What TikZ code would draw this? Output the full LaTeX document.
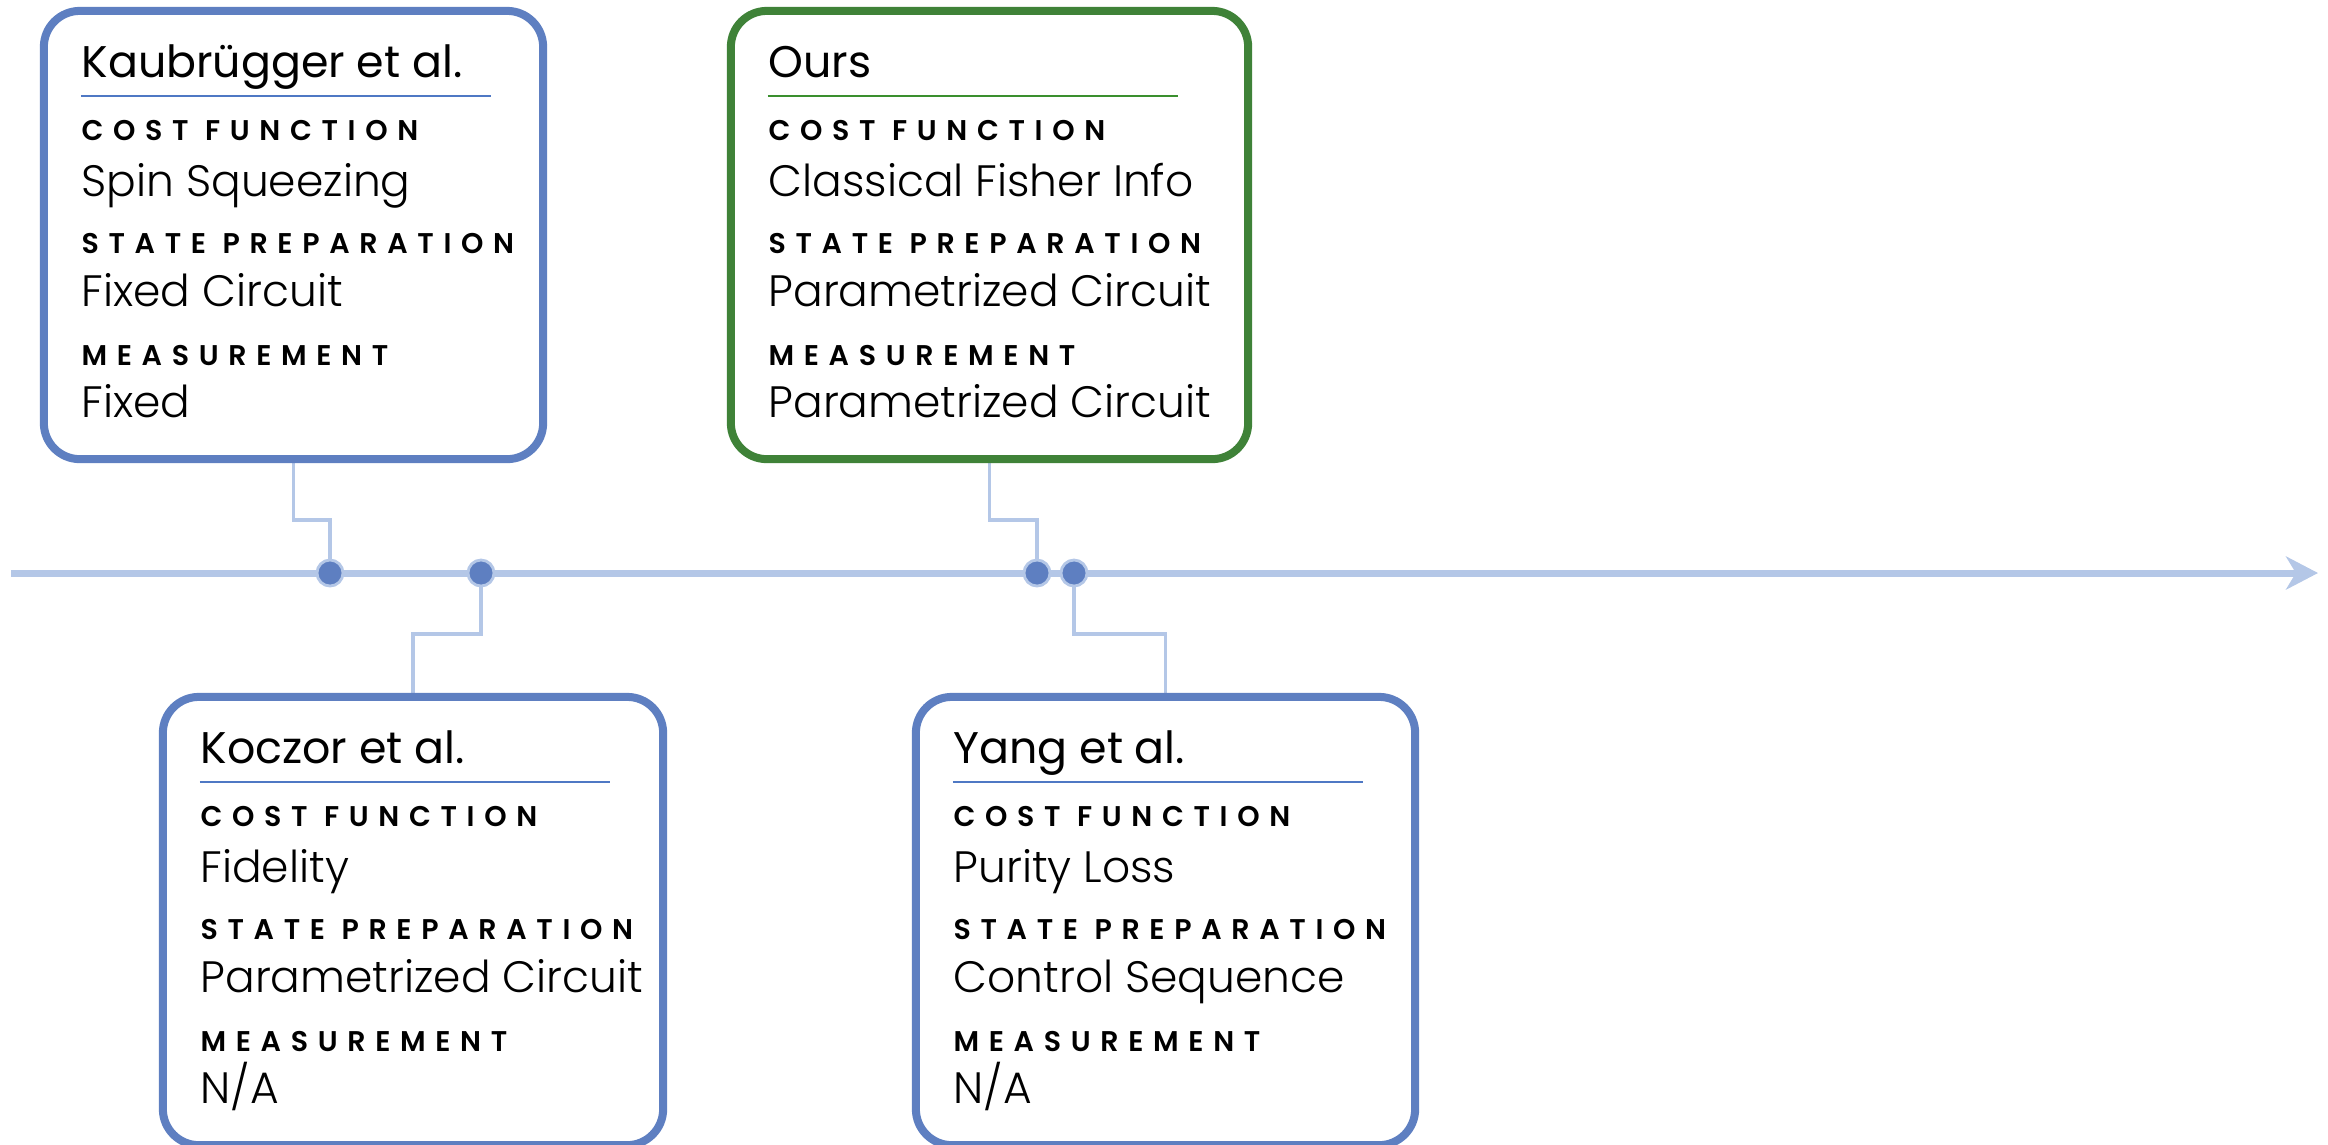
\documentclass[tikz,border=0pt]{standalone}
\usepackage{fontspec}
\setmainfont{Poppins}
\newfontfamily\lightfont{Poppins}[UprightFont=* Light]
\newfontfamily\labelfont{Poppins}[UprightFont=* SemiBold, LetterSpace=34]
\usetikzlibrary{calc,arrows.meta}
\pgfdeclarelayer{bg}
\pgfsetlayers{bg,main}
\definecolor{cardblue}{HTML}{5E7FC1}
\definecolor{cardgreen}{HTML}{3F8238}
\definecolor{lineblue}{HTML}{B4C7E7}
\definecolor{ruleblue}{HTML}{4F78C4}
\definecolor{rulegreen}{HTML}{3A8F2E}
\tikzset{
  card/.style={rectangle, rounded corners=0.36cm, line width=2.28pt, fill=white,
    minimum height=4.48cm, inner sep=0pt},
  cardtitle/.style={anchor=base west, inner sep=0pt, font=\fontsize{12.6}{14}\selectfont},
  cardlabel/.style={anchor=base west, inner sep=0pt, font=\labelfont\fontsize{8.1}{10}\selectfont},
  cardvalue/.style={anchor=base west, inner sep=0pt, font=\lightfont\fontsize{12.5}{14}\selectfont},
  timeline/.style={line width=2pt, draw=lineblue},
  conn/.style={line width=1pt, draw=lineblue},
  tdot/.style={circle, fill=cardblue, draw=lineblue, line width=0.8pt, minimum size=7.4pt, inner sep=0pt}
}
% #1 name, #2 cx, #3 cy, #4 width (cm), #5 border colour, #6 rule colour, #7 title, #8 v1, #9 v2 ; value 3 in \cardthird
\newcommand\cardthird{}
\newcommand\infocard[9]{%
  \node[card, draw=#5, minimum width=#4cm] (#1) at (#2,#3) {};
  \node[cardtitle] (#1-title) at ($(#1.north west)+(41,71)$) {#7};
  \coordinate (#1-rs) at ($(#1.north west)+(41,89)$);
  \coordinate (#1-re) at ($(#1.north west)+(451,89)$);
  \draw[draw=#6, line width=0.45pt] (#1-rs) -- (#1-re);
  \node[cardlabel] (#1-l1) at ($(#1.north west)+(41,134)$) {COST FUNCTION};
  \node[cardvalue] (#1-v1) at ($(#1.north west)+(41,190)$) {#8};
  \node[cardlabel] (#1-l2) at ($(#1.north west)+(41,247)$) {STATE PREPARATION};
  \node[cardvalue] (#1-v2) at ($(#1.north west)+(41,300)$) {#9};
  \node[cardlabel] (#1-l3) at ($(#1.north west)+(41,359)$) {MEASUREMENT};
  \node[cardvalue] (#1-v3) at ($(#1.north west)+(41,411)$) {\cardthird};
}
\begin{document}
\begin{tikzpicture}[x=0.01cm, y=-0.01cm]
\useasboundingbox (0,0) rectangle (2328,1144);

% dots on the timeline
\node[tdot] (d1) at (330,573) {};
\node[tdot] (d2) at (481,573) {};
\node[tdot] (d3) at (1037,573) {};
\node[tdot] (d4) at (1074,573) {};
\coordinate (tstart) at (11,573);
\coordinate (tend) at (2318,573);

% cards
\renewcommand\cardthird{Fixed}
\infocard{b1}{293.5}{235}{4.99}{cardblue}{ruleblue}{Kaubrügger et al.}{Spin Squeezing}{Fixed Circuit}
\renewcommand\cardthird{N/A}
\infocard{b2}{413}{921}{5.00}{cardblue}{ruleblue}{Koczor et al.}{Fidelity}{Parametrized Circuit}
\renewcommand\cardthird{Parametrized Circuit}
\infocard{b3}{989.5}{235}{5.17}{cardgreen}{rulegreen}{Ours}{Classical Fisher Info}{Parametrized Circuit}
\renewcommand\cardthird{N/A}
\infocard{b4}{1165.5}{921}{4.99}{cardblue}{ruleblue}{Yang et al.}{Purity Loss}{Control Sequence}

\begin{pgfonlayer}{bg}
  \draw[timeline, -{Stealth[length=9.1pt, width=9.4pt, inset=2.8pt]}] (tstart) -- (tend);
  \draw[conn] (b1.south) -- ++(0,57) -| (d1.center);
  \draw[conn] (d2.center) -- ++(0,61) -| (b2.north);
  \draw[conn] (b3.south) -- ++(0,57) -| (d3.center);
  \draw[conn] (d4.center) -- ++(0,61) -| (b4.north);
\end{pgfonlayer}
\end{tikzpicture}
\end{document}
